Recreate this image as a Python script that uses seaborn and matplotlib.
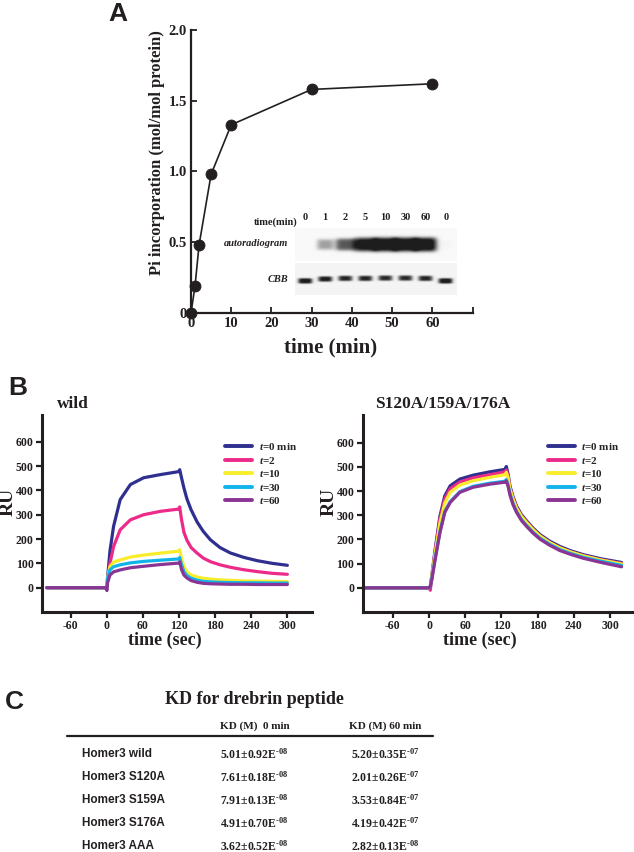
import numpy as np
import pandas as pd
import seaborn as sns
import matplotlib
matplotlib.use("Agg")
from matplotlib import pyplot as plt

# ---- panel A: Pi incorporation ----
pi_time = [0, 1, 2, 5, 10, 30, 60]
pi_value = [0.0, 0.19, 0.48, 0.98, 1.33, 1.58, 1.62]

gel_lanes = ["0", "1", "2", "5", "10", "30", "60", "0"]
auto_intensity = [0.0, 0.42, 0.68, 0.95, 1.0, 1.0, 1.0, 0.03]
cbb_intensity = [0.9, 0.85, 0.8, 0.8, 0.78, 0.78, 0.8, 0.9]

# ---- panel B: sensorgrams ----
series_names = ["t=0 min", "t=2", "t=10", "t=30", "t=60"]
series_colors = ["#2e2f8f", "#ec2a8a", "#f9ec2a", "#12b3ea", "#8a3594"]

wild_time = [-100, -2, 0, 1, 5, 11, 22, 39, 61, 89, 119, 121, 124, 128, 133,
             140, 150, 160, 172, 188, 205, 227, 250, 275, 300]
wild_ru = {
    "t=0 min": [0, 0, 0, 40, 150, 252, 362, 424, 452, 465, 477, 485, 452, 410, 365,
                320, 270, 232, 197, 165, 143, 125, 111, 100, 92],
    "t=2": [0, 0, 0, 30, 100, 169, 238, 279, 300, 314, 323, 332, 280, 228, 195,
            165, 142, 122, 107, 94, 84, 74, 66, 59, 55],
    "t=10": [0, 0, 0, 40, 87, 105, 114, 126, 134, 142, 150, 156, 120, 87, 65,
             52, 44, 39, 35, 32, 30, 28, 27, 26, 25],
    "t=30": [0, 0, 0, 40, 73, 86, 94, 102, 108, 113, 118, 124, 95, 66, 50,
             39, 31, 26, 24, 22, 21, 20, 20, 19, 19],
    "t=60": [0, 0, -12, 20, 52, 65, 73, 82, 88, 95, 101, 106, 75, 52, 40,
             29, 22, 18, 16, 15, 14, 14, 13, 13, 13],
}

mut_time = [-106, 0, 2, 5, 10, 18, 26, 35, 51, 73, 101, 126, 128, 131, 134,
            139, 145, 153, 162, 172, 184, 200, 217, 235, 256, 285, 319]
mut_ru = {
    "t=0 min": [0, 0, 5, 60, 157, 296, 380, 422, 450, 466, 480, 490, 502, 470, 422,
                378, 338, 303, 276, 248, 220, 193, 171, 153, 137, 120, 105],
    "t=2": [0, 0, -10, 50, 150, 285, 368, 410, 438, 455, 468, 480, 488, 462, 415,
            372, 332, 298, 271, 243, 215, 188, 166, 149, 133, 116, 101],
    "t=10": [0, 0, 5, 55, 140, 268, 350, 395, 425, 443, 457, 468, 478, 455, 410,
             368, 330, 296, 269, 242, 214, 187, 165, 148, 132, 115, 99],
    "t=30": [0, 0, 5, 45, 120, 232, 315, 357, 398, 420, 433, 441, 448, 425, 390,
             350, 316, 283, 257, 231, 205, 180, 158, 142, 126, 110, 93],
    "t=60": [0, 0, 5, 40, 116, 228, 312, 353, 395, 416, 429, 437, 442, 420, 385,
             345, 312, 279, 253, 227, 201, 176, 154, 138, 122, 105, 87],
}
legend_labels = ["$t$=0 min", "$t$=2", "$t$=10", "$t$=30", "$t$=60"]

# ---- panel C: KD table ----
kd_rows = ["Homer3 wild", "Homer3 S120A", "Homer3 S159A", "Homer3 S176A", "Homer3 AAA"]
kd0_mean = ["5.01", "7.61", "7.91", "4.91", "3.62"]
kd0_sd = ["0.92", "0.18", "0.13", "0.70", "0.52"]
kd0_exp = ["08", "08", "08", "08", "08"]
kd60_mean = ["5.20", "2.01", "3.53", "4.19", "2.82"]
kd60_sd = ["0.35", "0.26", "0.84", "0.42", "0.13"]
kd60_exp = ["07", "07", "07", "07", "08"]

W, H = 634, 852

sns.set_style("white")
plt.rcParams["font.family"] = ["Liberation Serif", "DejaVu Serif"]
plt.rcParams["font.weight"] = "bold"
plt.rcParams["axes.unicode_minus"] = False
plt.rcParams["mathtext.fontset"] = "custom"
plt.rcParams["mathtext.rm"] = "Liberation Serif:bold"
plt.rcParams["mathtext.it"] = "Liberation Serif:italic:bold"
plt.rcParams["mathtext.bf"] = "Liberation Serif:bold"
plt.rcParams["axes.edgecolor"] = "#231f20"
TXT = "#231f20"


def px_rect(l, t, r, b):
    return [l / W, 1 - b / H, (r - l) / W, (b - t) / H]


def style_axes(ax, lw):
    sns.despine(ax=ax)
    for s in ("left", "bottom"):
        ax.spines[s].set_linewidth(lw)
    ax.set_xlabel("")
    ax.set_ylabel("")


fig = plt.figure(figsize=(W / 100, H / 100), dpi=100)

# ---------------- A ----------------
axA = fig.add_axes(px_rect(191, 30, 472.5, 313))
dfA = pd.DataFrame({"time": pi_time, "pi": pi_value})
sns.lineplot(data=dfA, x="time", y="pi", color=TXT, lw=1.2, ax=axA)
sns.scatterplot(data=dfA, x="time", y="pi", color=TXT, s=62, edgecolor=TXT,
                zorder=5, clip_on=False, ax=axA)
axA.set_xlim(0, 70)
axA.set_ylim(0, 2)
axA.set_xticks(range(0, 71, 10))
axA.set_xticklabels(["0", "10", "20", "30", "40", "50", "60", ""])
axA.set_yticks([0, 0.5, 1.0, 1.5, 2.0])
axA.set_yticklabels(["0", "0.5", "1.0", "1.5", "2.0"])
axA.tick_params(direction="in", length=4, width=1.3, labelsize=10.5, pad=3,
                colors=TXT, left=True, bottom=True)
style_axes(axA, 1.6)


def gel_panel(rect, intensity, centre, sigma_y, bg, auto):
    ax = fig.add_axes(px_rect(*rect))
    xs = np.linspace(-0.5, 7.56, 324)
    ys = np.linspace(0, 1, 66)
    X, Y = np.meshgrid(xs, ys)
    img = np.full_like(X, bg)
    for i, a in enumerate(intensity):
        if auto:
            wx = 0.34 + 0.26 * a
            sy = sigma_y * (0.7 + 0.45 * a)
        else:
            wx = 0.37
            sy = sigma_y
        yc = centre[i] if isinstance(centre, list) else centre
        img += a * np.exp(-((X - i) / wx) ** 4) * np.exp(-((Y - yc) / sy) ** 4)
    ax.imshow(np.clip(img, 0, 0.9), cmap="Greys", vmin=0, vmax=1, origin="lower",
              extent=(-0.5, 7.56, 0, 1), aspect="auto", interpolation="bilinear")
    ax.set_axis_off()
    return ax


ax_auto = gel_panel((295, 228, 457, 261), auto_intensity, 0.5, 0.2, 0.05, True)
gel_panel((295, 263, 457, 295), cbb_intensity,
          [0.44, 0.5, 0.52, 0.52, 0.53, 0.53, 0.52, 0.44], 0.09, 0.09, False)
for i, lab in enumerate(gel_lanes):
    ax_auto.text(i, 1.18, lab, ha="center", va="bottom", fontsize=7.5, color=TXT)

# ---------------- B ----------------
def sensorgram(rect, times, ru, xlim, ylim, leg_x):
    ax = fig.add_axes(px_rect(*rect))
    rows = []
    for name in series_names:
        for t, v in zip(times, ru[name]):
            rows.append({"time": t, "RU": v, "series": name})
    df = pd.DataFrame(rows)
    sns.lineplot(data=df, x="time", y="RU", hue="series", hue_order=series_names,
                 palette=series_colors, lw=2.3, estimator=None, sort=False, ax=ax)
    handles = ax.get_legend().legend_handles
    for h in handles:
        h.set_linewidth(2.8)
    ax.legend(handles, legend_labels, loc="upper left", bbox_to_anchor=(leg_x, 0.868),
              frameon=False, fontsize=8, borderpad=0, borderaxespad=0,
              handlelength=2.45, handletextpad=0.6, labelspacing=0.23)
    ax.set_xlim(*xlim)
    ax.set_ylim(*ylim)
    ax.set_xticks(range(-60, 301, 60))
    ax.set_yticks(range(0, 601, 100))
    ax.tick_params(direction="out", length=4, width=1.6, labelsize=8.5, pad=2,
                   colors=TXT, left=True, bottom=True)
    style_axes(ax, 2.2)
    return ax


sensorgram((42, 415, 312, 612), wild_time, wild_ru, (-108, 341), (-100, 710), 0.678)
sensorgram((362.7, 415, 633, 612), mut_time, mut_ru, (-110, 338), (-100, 715), 0.684)

# ---------------- free text ----------------
cv = fig.add_axes([0, 0, 1, 1], zorder=10)
cv.set_xlim(0, W)
cv.set_ylim(H, 0)
cv.set_axis_off()
cv.patch.set_alpha(0)

sans = ["Liberation Sans", "DejaVu Sans"]
for letter, x, y in (("A", 118, 14), ("B", 18, 388), ("C", 14, 702)):
    cv.text(x, y, letter, family=sans, fontsize=19, ha="center", va="center", color=TXT)

cv.text(157, 153, "Pi incorporation (mol/mol protein)", rotation=90, fontsize=12,
        ha="center", va="center", color=TXT)
cv.text(331, 347, "time (min)", fontsize=15, ha="center", va="center", color=TXT)
cv.text(298, 222, "time(min)", fontsize=7.5, ha="right", va="center", color=TXT)
cv.text(288, 244, "autoradiogram", fontsize=7.5, style="italic", ha="right",
        va="center", color=TXT)
cv.text(288, 280, "CBB", fontsize=7.5, style="italic", ha="right", va="center", color=TXT)

cv.text(73, 404, "wild", fontsize=12.5, ha="center", va="center", color=TXT)
cv.text(443, 404, "S120A/159A/176A", fontsize=12.5, ha="center", va="center", color=TXT)
for x in (8, 329):
    cv.text(x, 502, "RU", rotation=90, fontsize=14, ha="center", va="center", color=TXT)
for x in (165, 480):
    cv.text(x, 640, "time (sec)", fontsize=13, ha="center", va="center", color=TXT)

cv.text(254, 700, "KD for drebrin peptide", fontsize=13, ha="center", va="center",
        color=TXT)
cv.text(255, 726, "KD (M)  0 min", fontsize=8, ha="center", va="center", color=TXT)
cv.text(385, 726, "KD (M) 60 min", fontsize=8, ha="center", va="center", color=TXT)
cv.plot([67, 433], [735.7, 735.7], color=TXT, lw=1.6)
for i, name in enumerate(kd_rows):
    y = 754 + 23.1 * i
    cv.text(82, y, name, family=sans, fontsize=8.5, ha="left", va="center", color=TXT)
    cv.text(254, y, f"{kd0_mean[i]}±{kd0_sd[i]}E$^{{\u2010{kd0_exp[i]}}}$",
            fontsize=8.5, ha="center", va="center", color=TXT)
    cv.text(385, y, f"{kd60_mean[i]}±{kd60_sd[i]}E$^{{\u2010{kd60_exp[i]}}}$",
            fontsize=8.5, ha="center", va="center", color=TXT)

fig.savefig("out.png", dpi=100, facecolor="white")
